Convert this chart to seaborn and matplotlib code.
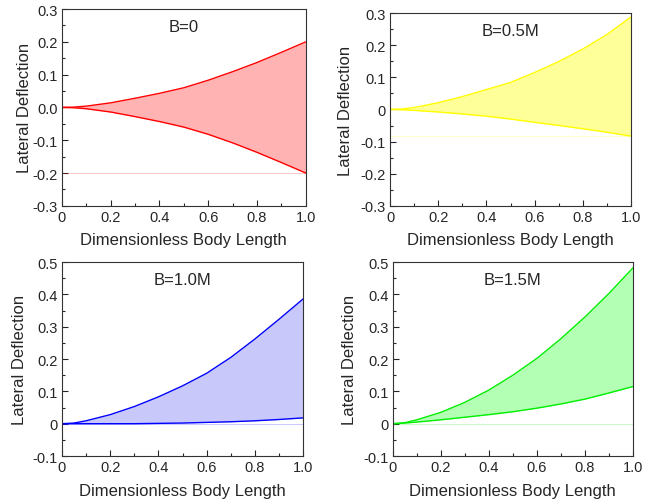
import numpy as np
import pandas as pd
import seaborn as sns
import matplotlib.pyplot as plt
from matplotlib.ticker import MultipleLocator, FuncFormatter

sns.set_style("ticks")
plt.rcParams['font.family'] = ['Liberation Sans', 'DejaVu Sans']

x = [0.0, 0.05, 0.1, 0.2, 0.3, 0.4, 0.5, 0.6, 0.7, 0.8, 0.9, 1.0]

b0_upper = [0.0, 0.001, 0.004, 0.014, 0.028, 0.043, 0.060, 0.083, 0.109, 0.137, 0.168, 0.200]
b0_lower = [0.0, -0.001, -0.004, -0.014, -0.028, -0.043, -0.060, -0.082, -0.108, -0.137, -0.168, -0.200]

b05_upper = [0.0, 0.0015, 0.006, 0.021, 0.040, 0.062, 0.084, 0.115, 0.149, 0.188, 0.233, 0.288]
b05_lower = [0.0, -0.001, -0.003, -0.008, -0.014, -0.021, -0.030, -0.040, -0.050, -0.060, -0.071, -0.083]

b10_upper = [0.0, 0.002, 0.009, 0.028, 0.053, 0.083, 0.117, 0.156, 0.205, 0.262, 0.323, 0.386]
b10_lower = [0.0, 0.0, 0.0, 0.0, 0.0, 0.001, 0.002, 0.004, 0.006, 0.009, 0.013, 0.018]

b15_upper = [0.0, 0.003, 0.012, 0.035, 0.066, 0.104, 0.150, 0.202, 0.263, 0.330, 0.403, 0.482]
b15_lower = [0.0, 0.002, 0.005, 0.012, 0.020, 0.028, 0.037, 0.048, 0.061, 0.076, 0.095, 0.115]

titles = ["B=0", "B=0.5M", "B=1.0M", "B=1.5M"]
line_colors = ["#FF0000", "#FFFF00", "#0000FF", "#00EE00"]
fill_colors = ["#FFB3B3", "#FFFF99", "#C8C8FA", "#B3FFB3"]
uppers = [b0_upper, b05_upper, b10_upper, b15_upper]
lowers = [b0_lower, b05_lower, b10_lower, b15_lower]
ylims = [(-0.3, 0.3), (-0.3, 0.3), (-0.1, 0.5), (-0.1, 0.5)]

positions = [
    [0.094, 0.588, 0.370, 0.392],
    [0.592, 0.588, 0.3655, 0.384],
    [0.094, 0.0896, 0.366, 0.3864],
    [0.596, 0.0896, 0.3645, 0.3864],
]
ylabel_x = [-0.123, -0.154, -0.145, -0.15]

fig = plt.figure(figsize=(6.59, 5.02), dpi=100)

def fmt_factory(zero_label):
    def f(v, pos):
        if abs(v) < 1e-9:
            return zero_label
        return f"{v:.1f}"
    return f

for i in range(4):
    ax = fig.add_axes(positions[i])
    df = pd.DataFrame({"x": x, "upper": uppers[i], "lower": lowers[i]})
    ax.fill_between(df["x"], df["lower"], df["upper"], color=fill_colors[i], lw=0)
    base = min(lowers[i])
    ax.axhline(base, color=line_colors[i], lw=0.6, alpha=0.25, zorder=1)
    sns.lineplot(data=df, x="x", y="upper", ax=ax, color=line_colors[i], lw=1.0)
    sns.lineplot(data=df, x="x", y="lower", ax=ax, color=line_colors[i], lw=1.0)
    ax.set_xlim(0, 1.0)
    ax.set_ylim(*ylims[i])
    ax.xaxis.set_major_locator(MultipleLocator(0.2))
    ax.xaxis.set_minor_locator(MultipleLocator(0.1))
    ax.yaxis.set_major_locator(MultipleLocator(0.1))
    ax.yaxis.set_minor_locator(MultipleLocator(0.05))
    ax.xaxis.set_major_formatter(FuncFormatter(fmt_factory("0")))
    ax.yaxis.set_major_formatter(FuncFormatter(fmt_factory("0.0" if i == 0 else "0")))
    ax.tick_params(which="major", direction="in", length=4, width=0.8, labelsize=10.5, pad=3)
    ax.tick_params(which="minor", direction="in", length=2.5, width=0.8)
    for s in ax.spines.values():
        s.set_linewidth(0.8)
        s.set_color("#333333")
    ax.set_xlabel("Dimensionless Body Length", fontsize=12, labelpad=6)
    ax.set_ylabel("Lateral Deflection", fontsize=12)
    ax.yaxis.set_label_coords(ylabel_x[i], 0.5)
    ax.text(0.5, 0.91, titles[i], transform=ax.transAxes, ha="center", va="center", fontsize=12)

fig.savefig("out.png", dpi=100)
